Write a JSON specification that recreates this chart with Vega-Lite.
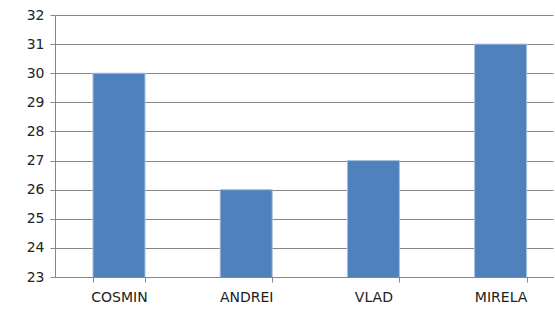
{
  "$schema": "https://vega.github.io/schema/vega-lite/v6.json",
  "width": 498,
  "height": 262,
  "autosize": {"type": "none"},
  "padding": {"left": 55, "top": 15, "right": 2, "bottom": 32},
  "background": "white",
  "data": {"values": [
    {"name": "COSMIN", "value": 30},
    {"name": "ANDREI", "value": 26},
    {"name": "VLAD", "value": 27},
    {"name": "MIRELA", "value": 31}
  ]},
  "config": {"view": {"stroke": null}},
  "mark": {"type": "bar", "color": "#4F81BD", "stroke": "#A7C0DE", "strokeWidth": 1, "clip": true},
  "encoding": {
    "x": {
      "field": "name", "type": "nominal", "sort": null,
      "scale": {"paddingInner": 0.591, "paddingOuter": 0.253, "align": 0.59},
      "axis": {
        "title": null, "labelAngle": 0, "labelFont": "DejaVu Sans", "labelFontSize": 14,
        "labelColor": "#222", "labelPadding": 8, "tickBand": "extent", "ticks": true, "tickSize": 5,
        "tickColor": "#878787", "domainColor": "#878787", "grid": false
      }
    },
    "y": {
      "field": "value", "type": "quantitative",
      "scale": {"domain": [23, 32], "zero": false, "nice": false},
      "axis": {
        "title": null, "values": [23, 24, 25, 26, 27, 28, 29, 30, 31, 32],
        "labelFont": "DejaVu Sans", "labelFontSize": 14, "labelColor": "#222",
        "labelPadding": 6, "tickSize": 5, "tickColor": "#878787", "domainColor": "#878787",
        "grid": true, "gridColor": "#878787", "gridWidth": 1.2
      }
    }
  }
}
